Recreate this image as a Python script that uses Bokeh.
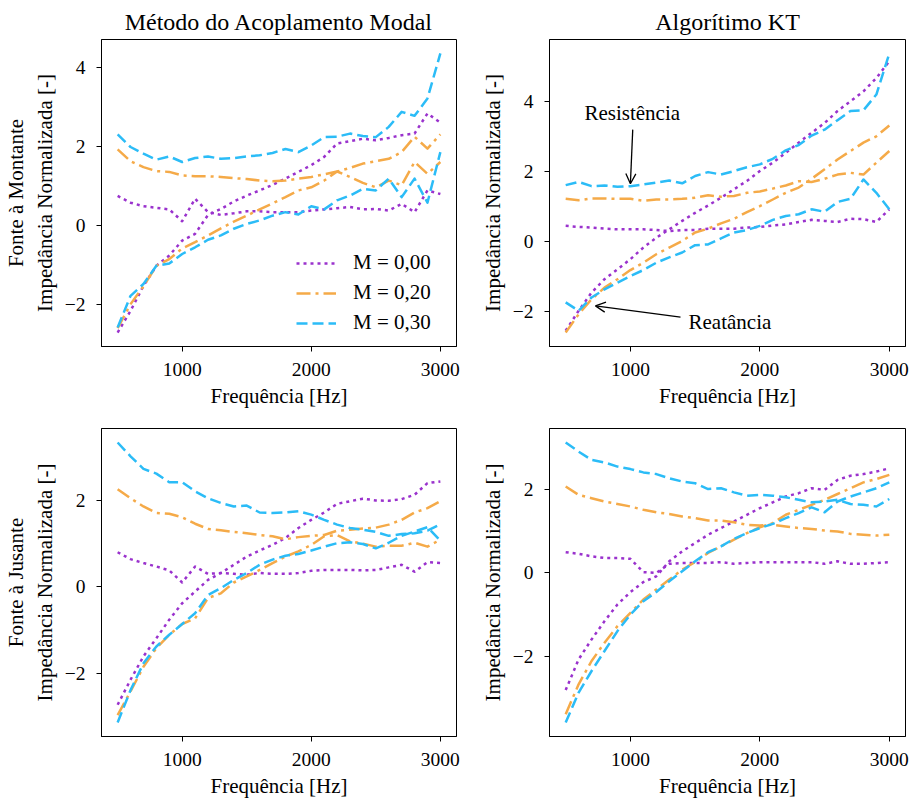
from bokeh.plotting import figure
from bokeh.layouts import gridplot
from bokeh.models import Range1d, FixedTicker, Legend, LegendItem, Arrow, OpenHead, Label
from bokeh.embed import file_html
from bokeh.resources import INLINE

# ---------------- data ----------------
freq = [500, 600, 700, 800, 900, 1000, 1100, 1200, 1300, 1400, 1500, 1600, 1700,
        1800, 1900, 2000, 2100, 2200, 2300, 2400, 2500, 2600, 2700, 2800, 2900, 3000]

series_labels = ["M = 0,00", "M = 0,20", "M = 0,30"]
col_titles = ["Método do Acoplamento Modal", "Algorítimo KT"]
row_labels = ["Fonte à Montante", "Fonte à Jusante"]
y_title = "Impedância Normalizada [-]"
x_title = "Frequência [Hz]"

# Método do Acoplamento Modal - Fonte à Montante (R = resistência, X = reatância)
amm_mon_r00 = [0.75, 0.58, 0.49, 0.45, 0.41, 0.11, 0.68, 0.34, 0.27, 0.31, 0.36, 0.36, 0.34,
               0.34, 0.34, 0.38, 0.41, 0.44, 0.47, 0.41, 0.42, 0.38, 0.55, 0.34, 0.89, 0.80]
amm_mon_x00 = [-2.71, -2.16, -1.53, -1.02, -0.76, -0.38, -0.21, 0.27, 0.42, 0.61, 0.76, 0.89, 1.03,
               1.19, 1.36, 1.53, 1.74, 2.08, 2.14, 2.20, 2.16, 2.22, 2.29, 2.33, 2.84, 2.61]
amm_mon_r20 = [1.93, 1.63, 1.48, 1.38, 1.36, 1.27, 1.25, 1.25, 1.23, 1.20, 1.18, 1.14, 1.12,
               1.14, 1.19, 1.23, 1.30, 1.37, 1.46, 1.57, 1.63, 1.69, 1.86, 2.25, 1.95, 2.31]
amm_mon_x20 = [-2.60, -1.99, -1.54, -1.02, -0.85, -0.58, -0.42, -0.25, -0.07, 0.10, 0.25, 0.41, 0.56,
               0.72, 0.89, 0.97, 1.14, 1.37, 1.23, 1.08, 0.97, 1.14, 1.02, 1.61, 1.31, 1.61]
amm_mon_r30 = [2.31, 1.99, 1.82, 1.67, 1.75, 1.61, 1.71, 1.75, 1.69, 1.71, 1.75, 1.78, 1.84,
               1.94, 1.86, 2.03, 2.24, 2.25, 2.33, 2.27, 2.24, 2.50, 2.88, 2.78, 3.22, 4.36]
amm_mon_x30 = [-2.58, -1.78, -1.48, -1.02, -0.96, -0.72, -0.55, -0.36, -0.25, -0.08, 0.04, 0.13, 0.25,
               0.34, 0.28, 0.49, 0.41, 0.64, 0.76, 0.93, 0.89, 1.19, 0.72, 1.19, 0.58, 1.86]

# Algorítimo KT - Fonte à Montante
kt_mon_r00 = [0.45, 0.42, 0.40, 0.37, 0.35, 0.35, 0.35, 0.33, 0.30, 0.33, 0.33, 0.37, 0.37,
              0.37, 0.40, 0.42, 0.46, 0.49, 0.56, 0.62, 0.59, 0.56, 0.65, 0.64, 0.56, 0.92]
kt_mon_x00 = [-2.54, -1.97, -1.45, -1.07, -0.79, -0.50, -0.17, 0.11, 0.35, 0.59, 0.82, 1.03, 1.25,
              1.49, 1.73, 2.01, 2.25, 2.53, 2.82, 3.10, 3.38, 3.72, 4.00, 4.28, 4.66, 5.14]
kt_mon_r20 = [1.22, 1.18, 1.23, 1.23, 1.22, 1.22, 1.16, 1.20, 1.20, 1.22, 1.25, 1.32, 1.28,
              1.30, 1.39, 1.43, 1.51, 1.60, 1.72, 1.70, 1.79, 1.91, 1.96, 1.91, 2.25, 2.58]
kt_mon_x20 = [-2.59, -2.07, -1.64, -1.31, -1.07, -0.81, -0.60, -0.36, -0.17, 0.02, 0.26, 0.37, 0.52,
              0.65, 0.84, 1.01, 1.20, 1.39, 1.54, 1.79, 2.06, 2.34, 2.58, 2.82, 3.00, 3.31]
kt_mon_r30 = [1.61, 1.70, 1.58, 1.60, 1.56, 1.58, 1.63, 1.68, 1.74, 1.66, 1.87, 1.98, 1.91,
              2.01, 2.12, 2.20, 2.36, 2.60, 2.75, 3.02, 3.19, 3.46, 3.72, 3.74, 4.19, 5.36]
kt_mon_x30 = [-1.73, -1.97, -1.59, -1.36, -1.17, -0.98, -0.81, -0.60, -0.45, -0.31, -0.10, -0.08, 0.09,
              0.26, 0.33, 0.45, 0.62, 0.73, 0.78, 0.92, 0.85, 1.13, 1.22, 1.77, 1.39, 0.92]

# Método do Acoplamento Modal - Fonte à Jusante
amm_jus_r00 = [0.80, 0.64, 0.55, 0.47, 0.38, 0.10, 0.47, 0.30, 0.32, 0.30, 0.28, 0.32, 0.30,
               0.30, 0.32, 0.37, 0.39, 0.39, 0.39, 0.38, 0.39, 0.45, 0.51, 0.35, 0.57, 0.55]
amm_jus_x00 = [-2.73, -2.15, -1.61, -1.19, -0.76, -0.38, -0.11, 0.16, 0.32, 0.51, 0.70, 0.84, 0.97,
               1.13, 1.36, 1.55, 1.72, 1.92, 1.98, 2.04, 2.00, 1.99, 2.03, 2.13, 2.40, 2.44]
amm_jus_r20 = [2.26, 2.05, 1.86, 1.71, 1.69, 1.61, 1.46, 1.34, 1.31, 1.27, 1.24, 1.20, 1.17,
               1.10, 1.15, 1.18, 1.20, 1.30, 1.32, 1.35, 1.37, 1.44, 1.55, 1.72, 1.82, 1.98]
amm_jus_x20 = [-2.97, -2.42, -1.85, -1.42, -1.11, -0.86, -0.73, -0.26, -0.15, 0.10, 0.24, 0.39, 0.55,
               0.70, 0.82, 0.97, 1.17, 1.20, 1.05, 1.00, 0.93, 0.95, 0.95, 1.02, 0.93, 1.09]
amm_jus_r30 = [3.34, 3.02, 2.73, 2.62, 2.42, 2.42, 2.21, 2.05, 1.94, 1.86, 1.88, 1.72, 1.71,
               1.72, 1.75, 1.67, 1.55, 1.44, 1.36, 1.32, 1.27, 1.18, 1.22, 1.24, 1.30, 1.45]
amm_jus_x30 = [-3.14, -2.39, -1.77, -1.38, -1.11, -0.86, -0.61, -0.19, -0.03, 0.16, 0.32, 0.51, 0.63,
               0.72, 0.76, 0.84, 0.93, 1.01, 1.03, 0.99, 0.89, 1.02, 1.18, 1.28, 1.38, 1.07]

# Algorítimo KT - Fonte à Jusante
kt_jus_r00 = [0.50, 0.46, 0.40, 0.36, 0.36, 0.34, 0.02, 0.00, 0.22, 0.24, 0.24, 0.24, 0.26,
              0.22, 0.24, 0.26, 0.26, 0.26, 0.26, 0.26, 0.22, 0.28, 0.22, 0.22, 0.24, 0.26]
kt_jus_x00 = [-2.82, -2.08, -1.60, -1.16, -0.76, -0.46, -0.22, -0.08, 0.28, 0.52, 0.72, 0.92, 1.08,
              1.24, 1.40, 1.56, 1.70, 1.84, 1.92, 2.04, 2.00, 2.24, 2.34, 2.38, 2.44, 2.52]
kt_jus_r20 = [2.08, 1.88, 1.80, 1.72, 1.66, 1.60, 1.52, 1.46, 1.42, 1.36, 1.32, 1.26, 1.26,
              1.22, 1.16, 1.14, 1.16, 1.12, 1.08, 1.06, 1.02, 1.00, 0.94, 0.92, 0.90, 0.92]
kt_jus_x20 = [-3.40, -2.68, -2.12, -1.68, -1.28, -0.96, -0.64, -0.40, -0.16, 0.08, 0.26, 0.48, 0.64,
              0.80, 0.96, 1.10, 1.20, 1.40, 1.52, 1.64, 1.76, 1.90, 2.04, 2.18, 2.26, 2.36]
kt_jus_r30 = [3.14, 2.92, 2.72, 2.66, 2.56, 2.50, 2.42, 2.38, 2.28, 2.20, 2.16, 2.02, 2.04,
              1.94, 1.86, 1.88, 1.86, 1.82, 1.76, 1.70, 1.72, 1.76, 1.66, 1.64, 1.60, 1.78]
kt_jus_x30 = [-3.60, -2.88, -2.36, -1.88, -1.40, -1.00, -0.68, -0.46, -0.20, 0.04, 0.28, 0.50, 0.64,
              0.82, 0.96, 1.08, 1.18, 1.32, 1.44, 1.58, 1.46, 1.72, 1.84, 1.94, 2.04, 2.18]

x_ticks = [1000, 2000, 3000]
y_ticks = [-4, -2, 0, 2, 4]

# ---------------- style ----------------
FONT = "Liberation Serif"
COLORS = ["#9A32CD", "#F5AA48", "#2BBCF7"]
DASHES = ["3 4", "14 5 3 5", "11 5"]
LW = 2.5
TICK_FS = "19.5px"
LABEL_FS = "21px"
TITLE_FS = "24px"


def panel(data, width, height, mb, title=None, ylabel=None, legend=False):
    allv = [v for pair in data for arr in pair for v in arr]
    lo, hi = min(allv), max(allv)
    pad = 0.05 * (hi - lo)
    xlo, xhi = min(freq), max(freq)
    xpad = 0.05 * (xhi - xlo)
    p = figure(width=width, height=height, output_backend="svg", toolbar_location=None,
               x_range=Range1d(xlo - xpad, xhi + xpad), y_range=Range1d(lo - pad, hi + pad),
               min_border_left=mb[0], min_border_right=mb[1], min_border_top=mb[2],
               min_border_bottom=mb[3])
    p.background_fill_color = "white"
    p.border_fill_color = "white"
    p.outline_line_color = "black"
    p.outline_line_width = 1
    p.grid.grid_line_color = None
    if title:
        p.title.text = title
        p.title.align = "center"
        p.title.text_font = FONT
        p.title.text_font_size = TITLE_FS
        p.title.text_font_style = "normal"
        p.title.text_color = "black"
    p.xaxis.ticker = FixedTicker(ticks=x_ticks)
    p.yaxis.ticker = FixedTicker(ticks=y_ticks)
    p.yaxis.major_label_overrides = {t: ("\u2212" + str(-t) if t < 0 else str(t)) for t in y_ticks}
    for ax in p.axis:
        ax.axis_line_color = "black"
        ax.major_tick_line_color = "black"
        ax.minor_tick_line_color = None
        ax.major_tick_out = 5
        ax.major_tick_in = 0
        ax.major_label_text_font = FONT
        ax.major_label_text_font_size = TICK_FS
        ax.major_label_text_color = "black"
        ax.axis_label_text_font = FONT
        ax.axis_label_text_font_size = LABEL_FS
        ax.axis_label_text_font_style = "normal"
        ax.axis_label_text_color = "black"
    p.xaxis.axis_label = x_title
    p.xaxis.major_label_standoff = 11
    p.xaxis.axis_label_standoff = 5
    p.yaxis.axis_label = ylabel
    p.yaxis.major_label_standoff = 11
    p.yaxis.axis_label_standoff = 5

    renderers = []
    for (r, x), c, d in zip(data, COLORS, DASHES):
        a = p.line(freq, r, line_color=c, line_dash=d, line_width=LW, line_join="round")
        p.line(freq, x, line_color=c, line_dash=d, line_width=LW, line_join="round")
        renderers.append(a)
    if legend:
        items = [LegendItem(label=lab, renderers=[rr]) for lab, rr in zip(series_labels, renderers)]
        lg = Legend(items=items, location=(195, 11))
        lg.border_line_color = None
        lg.background_fill_alpha = 0
        lg.padding = 0
        lg.margin = 0
        lg.spacing = 5
        lg.glyph_width = 40
        lg.glyph_height = 20
        lg.label_height = 20
        lg.label_standoff = 17
        lg.label_text_font = FONT
        lg.label_text_font_size = LABEL_FS
        lg.label_text_color = "black"
        p.add_layout(lg)
    return p


p1 = panel([(amm_mon_r00, amm_mon_x00), (amm_mon_r20, amm_mon_x20), (amm_mon_r30, amm_mon_x30)],
           466, 410, (101, 10, 39, 62), title=col_titles[0],
           ylabel=row_labels[0] + "\n" + y_title, legend=True)
p2 = panel([(kt_mon_r00, kt_mon_x00), (kt_mon_r20, kt_mon_x20), (kt_mon_r30, kt_mon_x30)],
           444, 410, (83, 5, 39, 62), title=col_titles[1], ylabel=y_title)
p3 = panel([(amm_jus_r00, amm_jus_x00), (amm_jus_r20, amm_jus_x20), (amm_jus_r30, amm_jus_x30)],
           466, 390, (101, 10, 18, 63), ylabel=row_labels[1] + "\n" + y_title)
p4 = panel([(kt_jus_r00, kt_jus_x00), (kt_jus_r20, kt_jus_x20), (kt_jus_r30, kt_jus_x30)],
           444, 390, (83, 5, 18, 63), ylabel=y_title)

# annotations on the KT (montante) panel
p2.add_layout(Arrow(end=OpenHead(size=10, line_width=1.3, line_color="black"),
                    x_start=1018, y_start=3.19, x_end=1000, y_end=1.65,
                    line_width=1.3, line_color="black"))
p2.add_layout(Label(x=1014, y=3.67, text="Resistência", text_align="center",
                    text_baseline="middle", text_font=FONT, text_font_size=LABEL_FS,
                    text_color="black"))
p2.add_layout(Arrow(end=OpenHead(size=10, line_width=1.3, line_color="black"),
                    x_start=1387, y_start=-2.15, x_end=730, y_end=-1.83,
                    line_width=1.3, line_color="black"))
p2.add_layout(Label(x=1449, y=-2.30, text="Reatância", text_align="left",
                    text_baseline="middle", text_font=FONT, text_font_size=LABEL_FS,
                    text_color="black"))

grid = gridplot([[p1, p2], [p3, p4]], toolbar_location=None)

with open("out.html", "w") as f:
    f.write(file_html(grid, INLINE))
